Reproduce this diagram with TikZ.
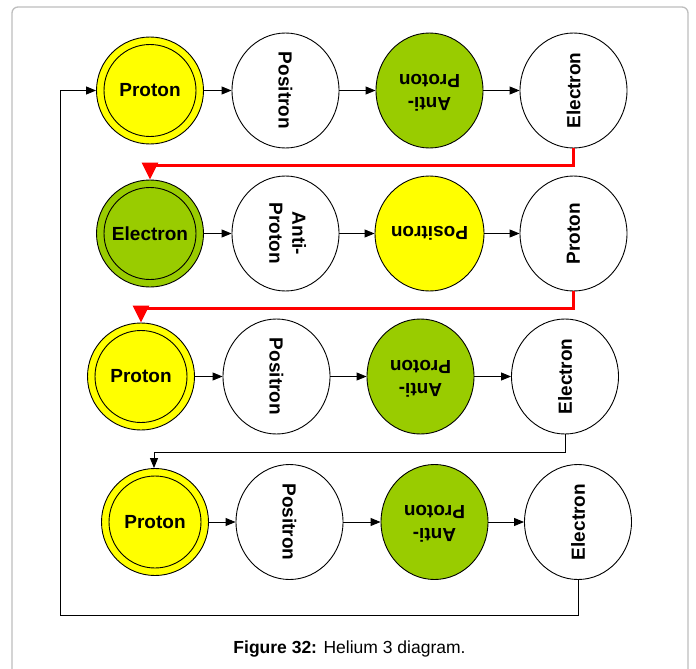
\documentclass[tikz,border=0pt]{standalone}
\usepackage{fontspec}
\setmainfont{Liberation Sans}
\usetikzlibrary{shapes.geometric,arrows.meta}
\newcommand\rtxt[2]{\rotatebox[origin=c]{#1}{#2}}
\newcommand\twol[2]{\begin{tabular}{@{}c@{}}#1\\#2\end{tabular}}
\definecolor{pyel}{RGB}{255,255,0}
\definecolor{pgrn}{RGB}{153,204,0}
\definecolor{frm}{RGB}{190,190,190}
\begin{document}
\begin{tikzpicture}[x=1pt,y=-1pt,
  lbl/.style={font=\fontsize{19}{23}\selectfont\bfseries},
  part/.style={ellipse,draw,line width=0.9pt,minimum width=107pt,minimum height=115pt,inner sep=0pt,lbl},
  dpart/.style={circle,draw,line width=0.9pt,minimum size=107pt,inner sep=0pt,lbl},
  conn/.style={line width=0.9pt,-{Triangle[length=10pt,width=8pt]}},
  redconn/.style={draw=red,line width=3pt,-{Triangle[length=17pt,width=16pt,fill=red]}}]
\useasboundingbox (0,0) rectangle (696,669);
\fill[white] (0,0) rectangle (696,669);
\draw[frm,line width=1.3pt,rounded corners=6pt] (12,700) -- (12,7) -- (688,7) -- (688,700);

% row 1
\node[dpart,fill=pyel] (a1) at (150,90.5) {Proton};
\draw[line width=0.9pt] (a1.center) circle (46);
\node[part] (a2) at (285.5,90.5) {\rtxt{-90}{Positron}};
\node[part,fill=pgrn] (a3) at (429.5,90.5) {\rtxt{180}{\twol{Anti-}{Proton}}};
\node[part] (a4) at (573.5,90.5) {\rtxt{90}{Electron}};
% row 2
\node[dpart,fill=pgrn] (b1) at (150,233.5) {Electron};
\draw[line width=0.9pt] (b1.center) circle (46);
\node[part] (b2) at (285.5,233.5) {\rtxt{-90}{\twol{Anti-}{Proton}}};
\node[part,fill=pyel] (b3) at (429.5,233.5) {\rtxt{180}{Positron}};
\node[part] (b4) at (573.5,233.5) {\rtxt{90}{Proton}};
% row 3
\node[dpart,fill=pyel] (c1) at (141,376.5) {Proton};
\draw[line width=0.9pt] (c1.center) circle (46);
\node[part] (c2) at (276.5,376.5) {\rtxt{-90}{Positron}};
\node[part,fill=pgrn] (c3) at (420.5,376.5) {\rtxt{180}{\twol{Anti-}{Proton}}};
\node[part] (c4) at (565,376.5) {\rtxt{90}{Electron}};
% row 4
\node[dpart,fill=pyel] (d1) at (155,522) {Proton};
\draw[line width=0.9pt] (d1.center) circle (46);
\node[part] (d2) at (289.5,522) {\rtxt{-90}{Positron}};
\node[part,fill=pgrn] (d3) at (434.5,522) {\rtxt{180}{\twol{Anti-}{Proton}}};
\node[part] (d4) at (578,522) {\rtxt{90}{Electron}};

\foreach \r in {a,b,c,d}{
  \draw[conn] (\r1) -- (\r2);
  \draw[conn] (\r2) -- (\r3);
  \draw[conn] (\r3) -- (\r4);
}
% red links
\draw[redconn] (a4.south) -- ++(0,17) -| (b1.north);
\draw[redconn] (b4.south) -- ++(0,17) -| (c1.north);
% black links
\draw[conn] (c4.south) -- ++(0,18) -| ([xshift=-1pt]d1.north);
\coordinate (lp) at (60,615);
\draw[conn] (d4.south) |- (lp) |- (a1.west);

\node[anchor=base,font=\fontsize{17.5}{20}\selectfont] (cap) at (349.5,653) {\textbf{Figure 32:} Helium 3 diagram.};
\end{tikzpicture}
\end{document}
